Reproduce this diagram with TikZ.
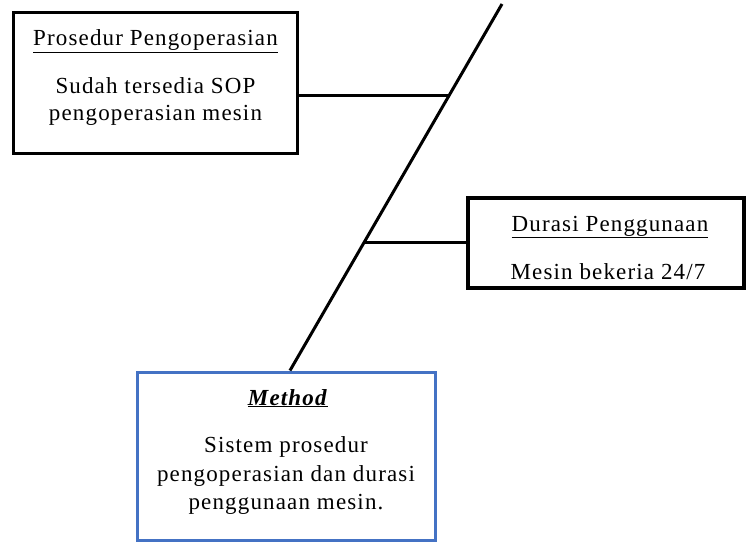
\documentclass[tikz,border=0pt]{standalone}
\usepackage{fontspec}
\setmainfont{Liberation Serif}[LetterSpace=5]
\usetikzlibrary{calc}
\definecolor{methodblue}{RGB}{68,114,196}

\tikzset{
  causebox/.style={draw=black, line width=3.2pt, inner sep=0pt},
  methodbox/.style={draw=methodblue, line width=3pt, inner sep=0pt},
  boxtext/.style={anchor=base, inner sep=0pt, font=\fontsize{23}{28}\selectfont},
  branch/.style={line width=3pt}
}

\begin{document}
\begin{tikzpicture}[x=1pt,y=-1pt]
    \useasboundingbox (0,0) rectangle (747,543);

    %Boxes
    \node[causebox, minimum width=284pt, minimum height=141pt] (prosedur) at (155.5,83) {};
    \node[causebox, minimum width=276pt, minimum height=90pt] (durasi) at (606,243) {};
    \node[methodbox, minimum width=298pt, minimum height=168pt] (method) at (286,456) {};

    %Prosedur Pengoperasian
    \node[boxtext] (prosedur-title) at (155.5,46) {\underline{Prosedur Pengoperasian}};
    \node[boxtext] (prosedur-l1) at (155.5,93) {Sudah tersedia SOP};
    \node[boxtext] (prosedur-l2) at (155.5,121) {pengoperasian mesin};

    %Durasi Penggunaan
    \node[boxtext] (durasi-title) at (610,231) {\underline{Durasi Penggunaan}};
    \node[boxtext] (durasi-l1) at (608,279) {Mesin bekeria 24/7};

    %Method
    \node[boxtext] (method-title) at (288,405) {\underline{\textbf{\textit{Method}}}};
    \node[boxtext] (method-l1) at (286,452) {Sistem prosedur};
    \node[boxtext] (method-l2) at (286,481) {pengoperasian dan durasi};
    \node[boxtext] (method-l3) at (286,509) {penggunaan mesin.};

    %Spine and branches
    \coordinate (spinetop) at (502,4);
    \coordinate (spinebot) at ([xshift=4pt]method.north);
    \coordinate (j1) at ($(spinetop)!0.2486!(spinebot)$);
    \coordinate (j2) at ($(spinetop)!0.650!(spinebot)$);

    \draw[branch] (spinetop) -- (spinebot);
    \draw[branch] (prosedur.east |- j1) -- (j1);
    \draw[branch] (j2) -- (durasi.west |- j2);
\end{tikzpicture}
\end{document}
